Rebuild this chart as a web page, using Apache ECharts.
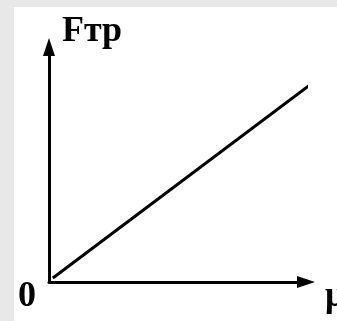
<!DOCTYPE html>
<html>
<head>
<meta charset="utf-8">
<script src="https://cdn.jsdelivr.net/npm/echarts@6/dist/echarts.min.js"></script>
<style>
  body {
    margin: 0;
    width: 337px;
    height: 321px;
    background: #e8e8e8;
    overflow: hidden;
  }
  #main {
    position: absolute;
    left: 14px;
    top: 7px;
    width: 323px;
    height: 314px;
    background: #fff;
  }
</style>
</head>
<body>
<div id="main"></div>
<script>
// friction force grows linearly with the friction coefficient
var muValues = [0.15, 10.15];
var frictionValues = [0.17, 8.38];
var xName = "μ";
var yName = "Fтр";
var originLabel = "0";

var chart = echarts.init(document.getElementById("main"));

var axisFont = {
  fontFamily: "Liberation Serif",
  fontWeight: "bold",
  fontSize: 36,
  lineHeight: 30,
  color: "#000",
};

var option = {
  animation: false,
  grid: {
    left: 35,
    right: 31,
    top: 40,
    bottom: 39,
    outerBoundsMode: "none",
  },
  xAxis: {
    type: "value",
    min: 0,
    max: 10,
    name: xName,
    nameLocation: "end",
    nameGap: 19,
    nameTextStyle: Object.assign({}, axisFont, { verticalAlign: "top" }),
    axisLine: {
      show: true,
      symbol: ["none", "triangle"],
      symbolSize: [12, 18],
      lineStyle: { color: "#000", width: 3 },
    },
    axisTick: { show: false },
    axisLabel: { show: false },
    splitLine: { show: false },
  },
  yAxis: {
    type: "value",
    min: 0,
    max: 10,
    interval: 10,
    name: yName,
    nameLocation: "end",
    nameGap: 0,
    nameTextStyle: Object.assign({}, axisFont, {
      align: "left",
      verticalAlign: "bottom",
      padding: [0, 0, 0, 13],
    }),
    axisLine: {
      show: true,
      symbol: ["none", "triangle"],
      symbolSize: [12, 18],
      lineStyle: { color: "#000", width: 3 },
    },
    axisTick: { show: false },
    axisLabel: Object.assign({}, axisFont, {
      margin: 13,
      verticalAlign: "top",
      showMaxLabel: false,
      formatter: function (v) {
        return v === 0 ? originLabel : "";
      },
    }),
    splitLine: { show: false },
  },
  series: [
    {
      type: "line",
      data: muValues.map(function (m, i) {
        return [m, frictionValues[i]];
      }),
      clip: false,
      symbol: "none",
      lineStyle: { color: "#000", width: 3 },
    },
  ],
};

chart.setOption(option);
window.addEventListener("resize", function () {
  chart.resize();
});
</script>
</body>
</html>
